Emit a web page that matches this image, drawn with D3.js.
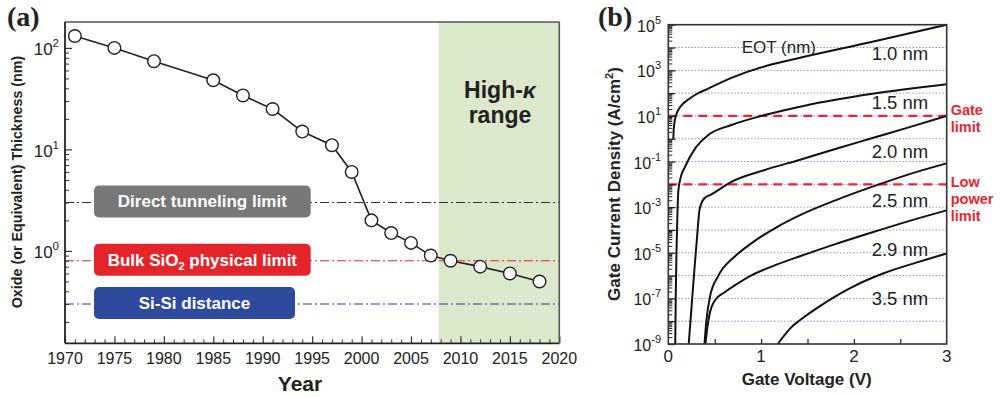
<!DOCTYPE html>
<html><head><meta charset="utf-8">
<script src="https://cdn.jsdelivr.net/npm/d3@7"></script>
<style>
body{margin:0;background:#fff}
svg{display:block}
text{font-family:"Liberation Sans",Arial,Helvetica,sans-serif}
text.serif{font-family:"Liberation Serif","Times New Roman",serif}
</style>
</head><body>
<svg id="c" width="1000" height="397"></svg>
<script>
// ---------- Panel (a) data ----------
const years = [1971,1975,1979,1985,1988,1991,1994,1997,1999,2001,2003,2005,2007,2009,2012,2015,2018];
const thickness = [131,100,74,48,34,25,15,11,6,2.0,1.5,1.2,0.9,0.8,0.7,0.6,0.5];
const limitValues = [3,0.8,0.3];
const limitColors = ["#333333","#e8262f","#2b3f9e"];
const boxColors = ["#787878","#e3242b","#2d4a9c"];
const highKYears = [2007.8,2020];
const yearTicks = [1970,1975,1980,1985,1990,1995,2000,2005,2010,2015,2020];
const thickTickExp = [0,1,2];

// ---------- Panel (b) data ----------
const eotNames = ["1.0 nm","1.5 nm","2.0 nm","2.5 nm","2.9 nm","3.5 nm"];
const volt10 = [0.054,0.057,0.062,0.07,0.085,0.108,0.15,0.216,0.3,0.43,0.7,1.06,1.42,2.2,3.0];
const logJ10 = [0,0.3,0.55,0.8,1.05,1.26,1.5,1.72,1.95,2.2,2.7,3.2,3.55,4.25,5.0];
const volt15 = [0.075,0.08,0.088,0.097,0.108,0.13,0.18,0.29,0.43,0.68,1.04,1.47,2.2,3.0];
const logJ15 = [-9,-7,-5,-3.5,-2.3,-1.75,-1.23,-0.42,0.16,0.6,1.04,1.45,1.97,2.39];
const volt20 = [0.22,0.25,0.28,0.31,0.335,0.36,0.39,0.46,0.52,0.68,1.04,1.42,1.8,2.2,2.6,3.0];
const logJ20 = [-9,-7.4,-5.8,-4.3,-3.15,-2.8,-2.61,-2.45,-2.3,-1.89,-1.37,-0.92,-0.45,0.03,0.51,1.0];
const volt25 = [0.39,0.41,0.45,0.54,0.72,0.89,1.18,1.42,1.8,2.2,2.6,3.0];
const logJ25 = [-9,-8,-6.9,-6.0,-5.15,-4.6,-3.85,-3.35,-2.7,-2.1,-1.55,-1.08];
const volt29 = [0.40,0.42,0.45,0.5,0.6,0.72,0.89,1.18,1.42,1.8,2.2,2.6,3.0];
const logJ29 = [-9,-8.3,-7.6,-7.1,-6.75,-6.42,-6.0,-5.5,-5.15,-4.62,-4.1,-3.6,-3.14];
const volt35 = [1.18,1.22,1.27,1.33,1.42,1.63,1.96,2.32,2.68,3.0];
const logJ35 = [-9,-8.78,-8.52,-8.25,-7.95,-7.35,-6.55,-5.9,-5.42,-5.03];
const currentTickExp = [5,3,1,-1,-3,-5,-7,-9];
const voltTicks = [0,1,2,3];
const gateLimit = 10, lowPowerLimit = 0.01;

const svg = d3.select("#c");

// ================= Panel (a) =================
const A = {l:65, r:559.3, t:22, b:343.3};
const xA = d3.scaleLinear([1970,2020],[A.l,A.r]);
const yA = d3.scaleLog([0.123,180],[A.b,A.t]);
const gA = svg.append("g");

// high-k region
gA.append("rect").attr("x",xA(highKYears[0])).attr("y",A.t)
  .attr("width",xA(highKYears[1])-xA(highKYears[0])).attr("height",A.b-A.t)
  .attr("fill","#dce8cb");

// reference lines
limitValues.forEach((v,i)=>{
  gA.append("line").attr("x1",A.l).attr("x2",A.r).attr("y1",yA(v)).attr("y2",yA(v))
    .attr("stroke",limitColors[i]).attr("stroke-width",1.2).attr("stroke-dasharray","9,3,2,3");
});

// boxes
const boxW = [216.7,216.7,201];
limitValues.forEach((v,i)=>{
  const cy = yA(v)-1;
  gA.append("rect").attr("x",94).attr("y",cy-16).attr("width",boxW[i]).attr("height",32)
    .attr("rx",5).attr("fill",boxColors[i]);
  const t = gA.append("text").attr("x",94+boxW[i]/2).attr("y",cy+6)
    .attr("text-anchor","middle").attr("fill","#fff").attr("font-weight","bold").attr("font-size",17);
  if(i===0) t.text("Direct tunneling limit");
  else if(i===1){ t.append("tspan").text("Bulk SiO"); t.append("tspan").attr("font-size",11).attr("dy",4).text("2");
    t.append("tspan").attr("dy",-4).text(" physical limit"); }
  else t.text("Si-Si distance");
});

// series
gA.append("path").datum(years.map((y,i)=>[y,thickness[i]]))
  .attr("d",d3.line().x(d=>xA(d[0])).y(d=>yA(d[1])))
  .attr("fill","none").attr("stroke","#222").attr("stroke-width",1.6);
gA.selectAll("circle.p").data(years.map((y,i)=>[y,thickness[i]])).join("circle")
  .attr("cx",d=>xA(d[0])).attr("cy",d=>yA(d[1])).attr("r",6.3)
  .attr("fill","#fff").attr("stroke","#222").attr("stroke-width",1.4);

// axes ticks (inward)
const allYears = d3.range(1970,2021);
gA.append("g").attr("transform",`translate(0,${A.b})`)
  .call(d3.axisTop(xA).tickValues(allYears.filter(y=>y%5!==0)).tickSize(4).tickFormat(""))
  .call(g=>g.select(".domain").remove()).call(g=>g.selectAll("line").attr("stroke","#333"));
gA.append("g").attr("transform",`translate(0,${A.b})`)
  .call(d3.axisTop(xA).tickValues(yearTicks).tickSize(7).tickFormat(""))
  .call(g=>g.select(".domain").remove()).call(g=>g.selectAll("line").attr("stroke","#333").attr("stroke-width",1.2));
const minorA = [];
[0.1,1,10].forEach(d=>{for(let k=2;k<=9;k++){const v=k*d; if(v>0.123&&v<180) minorA.push(v);}});
gA.append("g").attr("transform",`translate(${A.l},0)`)
  .call(d3.axisRight(yA).tickValues(minorA).tickSize(4).tickFormat(""))
  .call(g=>g.select(".domain").remove()).call(g=>g.selectAll("line").attr("stroke","#333"));
gA.append("g").attr("transform",`translate(${A.l},0)`)
  .call(d3.axisRight(yA).tickValues(thickTickExp.map(e=>Math.pow(10,e))).tickSize(7).tickFormat(""))
  .call(g=>g.select(".domain").remove()).call(g=>g.selectAll("line").attr("stroke","#333").attr("stroke-width",1.2));

// frame
gA.append("line").attr("x1",A.l).attr("x2",A.r).attr("y1",A.t).attr("y2",A.t).attr("stroke","#555").attr("stroke-width",1.3);
gA.append("line").attr("x1",A.r).attr("x2",A.r).attr("y1",A.t).attr("y2",A.b).attr("stroke","#555").attr("stroke-width",1.6);
gA.append("line").attr("x1",A.l).attr("x2",A.r).attr("y1",A.b).attr("y2",A.b).attr("stroke","#222").attr("stroke-width",1.8);
gA.append("line").attr("x1",A.l).attr("x2",A.l).attr("y1",A.t).attr("y2",A.b).attr("stroke","#222").attr("stroke-width",1.8);

// tick labels
gA.selectAll("text.xl").data(yearTicks).join("text")
  .attr("x",d=>xA(d)).attr("y",363.5).attr("text-anchor","middle").attr("font-size",16).attr("fill","#222").text(d=>d);
thickTickExp.forEach(e=>{
  const t = gA.append("text").attr("x",59).attr("y",yA(Math.pow(10,e))+7.5).attr("text-anchor","end")
    .attr("font-size",17).attr("fill","#222");
  t.append("tspan").text("10");
  t.append("tspan").attr("font-size",11.5).attr("dy",-8).text(e);
});

// titles
gA.append("text").attr("transform","translate(22,182) rotate(-90)").attr("text-anchor","middle")
  .attr("font-weight","bold").attr("font-size",14.3).attr("fill","#222").text("Oxide (or Equivalent) Thickness (nm)");
gA.append("text").attr("x",300).attr("y",391).attr("text-anchor","middle")
  .attr("font-weight","bold").attr("font-size",21).attr("fill","#222").text("Year");
const hk = gA.append("text").attr("x",500).attr("y",98).attr("text-anchor","middle")
  .attr("font-weight","bold").attr("font-size",23).attr("fill","#222");
hk.append("tspan").text("High-"); hk.append("tspan").attr("font-style","italic").text("κ");
gA.append("text").attr("x",500).attr("y",123.3).attr("text-anchor","middle")
  .attr("font-weight","bold").attr("font-size",23).attr("fill","#222").text("range");
svg.append("text").attr("class","serif").attr("x",7).attr("y",26)
  .attr("font-weight","bold").attr("font-size",28).attr("fill","#222").text("(a)");

// ================= Panel (b) =================
const B = {l:668.3, r:946.7, t:24.7, b:344};
const xB = d3.scaleLinear([0,3],[B.l,B.r]);
const yB = d3.scaleLog([1e-9,1e5],[B.b,B.t]);
const gB = svg.append("g");
svg.append("defs").append("clipPath").attr("id","clipB").append("rect")
  .attr("x",B.l).attr("y",B.t).attr("width",B.r-B.l).attr("height",B.b-B.t);

// grid
const decadesB = d3.range(-8,5).map(e=>Math.pow(10,e));
gB.selectAll("line.grid").data(decadesB).join("line")
  .attr("x1",B.l).attr("x2",B.r).attr("y1",d=>yB(d)).attr("y2",d=>yB(d))
  .attr("stroke","#8f8fdc").attr("stroke-width",1).attr("stroke-dasharray","1.5,1.8");

// limits
[gateLimit,lowPowerLimit].forEach(v=>{
  gB.append("line").attr("x1",B.l).attr("x2",B.r).attr("y1",yB(v)).attr("y2",yB(v))
    .attr("stroke","#e8262f").attr("stroke-width",2.3).attr("stroke-dasharray","9,6");
});

// curves
const curves = [[volt10,logJ10],[volt15,logJ15],[volt20,logJ20],[volt25,logJ25],[volt29,logJ29],[volt35,logJ35]];
const lineB = d3.line().x(d=>xB(d[0])).y(d=>yB(Math.pow(10,d[1]))).curve(d3.curveMonotoneX);
curves.forEach(c=>{
  gB.append("path").datum(c[0].map((v,i)=>[v,c[1][i]])).attr("d",lineB)
    .attr("clip-path","url(#clipB)").attr("fill","none").attr("stroke","#111").attr("stroke-width",2);
});

// ticks (inward)
const minorB = [];
d3.range(-9,5).forEach(e=>{for(let k=2;k<=9;k++) minorB.push(k*Math.pow(10,e));});
gB.append("g").attr("transform",`translate(${B.l},0)`)
  .call(d3.axisRight(yB).tickValues(minorB).tickSize(4).tickFormat(""))
  .call(g=>g.select(".domain").remove()).call(g=>g.selectAll("line").attr("stroke","#222"));
gB.append("g").attr("transform",`translate(${B.l},0)`)
  .call(d3.axisRight(yB).tickValues(d3.range(-9,6).map(e=>Math.pow(10,e))).tickSize(7).tickFormat(""))
  .call(g=>g.select(".domain").remove()).call(g=>g.selectAll("line").attr("stroke","#222").attr("stroke-width",1.3));
gB.append("g").attr("transform",`translate(0,${B.b})`)
  .call(d3.axisTop(xB).tickValues([0.5,1,1.5,2,2.5]).tickSize(5).tickFormat(""))
  .call(g=>g.select(".domain").remove()).call(g=>g.selectAll("line").attr("stroke","#222").attr("stroke-width",1.2));

// frame
gB.append("rect").attr("x",B.l).attr("y",B.t).attr("width",B.r-B.l).attr("height",B.b-B.t)
  .attr("fill","none").attr("stroke","#333").attr("stroke-width",1.6);

// tick labels
currentTickExp.forEach(e=>{
  const t = gB.append("text").attr("x",661).attr("y",yB(Math.pow(10,e))+7).attr("text-anchor","end")
    .attr("font-size",16).attr("fill","#222");
  t.append("tspan").text("10");
  t.append("tspan").attr("font-size",11).attr("dy",-8).text(e<0?"-"+(-e):e);
});
gB.selectAll("text.xl").data(voltTicks).join("text")
  .attr("x",d=>xB(d)).attr("y",362).attr("text-anchor","middle").attr("font-size",17).attr("fill","#222").text(d=>d);

// titles
gB.append("text").attr("x",806.7).attr("y",385).attr("text-anchor","middle")
  .attr("font-weight","bold").attr("font-size",17).attr("fill","#222").text("Gate Voltage (V)");
const yt = gB.append("text").attr("transform","translate(620,184) rotate(-90)").attr("text-anchor","middle")
  .attr("font-weight","bold").attr("font-size",17).attr("fill","#222");
yt.append("tspan").text("Gate Current Density (A/cm");
yt.append("tspan").attr("font-size",11).attr("dy",-7).text("2");
yt.append("tspan").attr("dy",7).text(")");
svg.append("text").attr("class","serif").attr("x",598).attr("y",26)
  .attr("font-weight","bold").attr("font-size",28).attr("fill","#222").text("(b)");

// annotations
gB.append("text").attr("x",741.7).attr("y",53).attr("font-size",17).attr("fill","#222").text("EOT (nm)");
eotNames.forEach((n,i)=>{
  gB.append("text").attr("x",871.7).attr("y",60+i*49).attr("font-size",18.5).attr("fill","#222").text(n);
});
[["Gate",115],["limit",131.7],["Low",186.7],["power",203.5],["limit",220.7]].forEach(d=>{
  gB.append("text").attr("x",950.7).attr("y",d[1]).attr("font-size",14.5).attr("font-weight","bold")
    .attr("fill","#e8262f").text(d[0]);
});
</script>
</body></html>
